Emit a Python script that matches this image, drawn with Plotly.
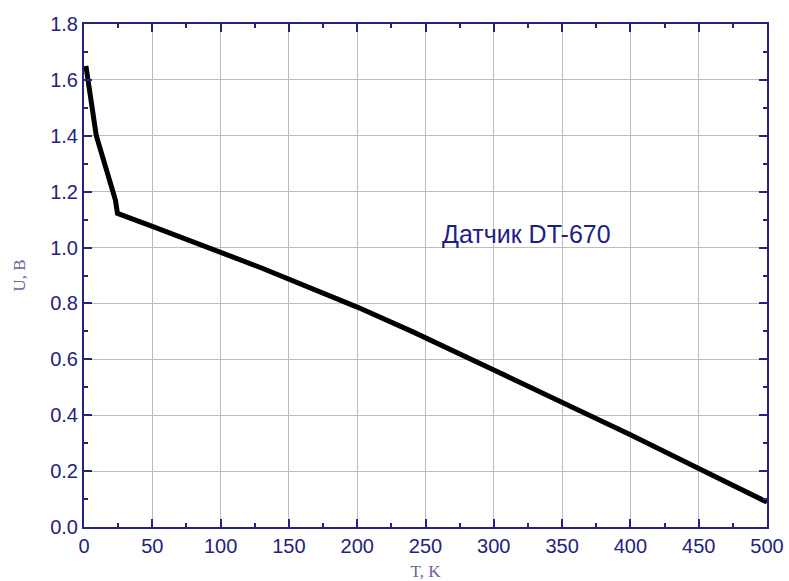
import plotly.graph_objects as go

T = [1.4, 9, 23, 24.5, 50, 100, 130, 200, 240, 300, 350, 400, 450, 500]
U = [1.65, 1.40, 1.17, 1.122, 1.076, 0.982, 0.927, 0.787, 0.700, 0.562, 0.446, 0.330, 0.209, 0.089]

x_ticks = [0, 50, 100, 150, 200, 250, 300, 350, 400, 450, 500]
y_ticks = [0.0, 0.2, 0.4, 0.6, 0.8, 1.0, 1.2, 1.4, 1.6, 1.8]
y_labels = ["%.1f" % v for v in y_ticks]

navy = "#23237f"
fig = go.Figure()
fig.add_trace(go.Scatter(x=T, y=U, mode="lines", line=dict(color="black", width=5), showlegend=False))

axis_common = dict(
    showline=True, linecolor=navy, linewidth=2, mirror="allticks",
    ticks="inside", ticklen=8, tickwidth=2, tickcolor=navy,
    showgrid=True, gridcolor="#bdbdbd", gridwidth=1, zeroline=False,
    tickfont=dict(family="Arial, Liberation Sans", size=20, color=navy),
    automargin=False,
)
title_font = dict(family="Liberation Serif, Times New Roman", size=17, color="#6666a0")
fig.update_xaxes(range=[0, 500], tickvals=x_ticks,
                 minor=dict(ticks="inside", ticklen=4, tickwidth=2, tickcolor=navy, dtick=25, tick0=0, showgrid=False),
                 title=dict(text="T, K", font=title_font, standoff=9),
                 **axis_common)
fig.update_yaxes(range=[0, 1.8], tickvals=y_ticks, ticktext=y_labels,
                 minor=dict(ticks="inside", ticklen=4, tickwidth=2, tickcolor=navy, dtick=0.1, tick0=0, showgrid=False),
                 title=dict(text="U, B", font=title_font, standoff=20),
                 **axis_common)
fig.add_annotation(xref="x", yref="y", x=(526 - 84) / 683 * 500, y=1.8 - (234 - 24) / 503 * 1.8,
                   text="Датчик DT-670", showarrow=False,
                   font=dict(family="Arial, Liberation Sans", size=25, color="#1e1e88"))
fig.update_layout(width=789, height=581, margin=dict(l=84, r=22, t=24, b=54),
                  plot_bgcolor="white", paper_bgcolor="white")
fig.write_html("out.html")
